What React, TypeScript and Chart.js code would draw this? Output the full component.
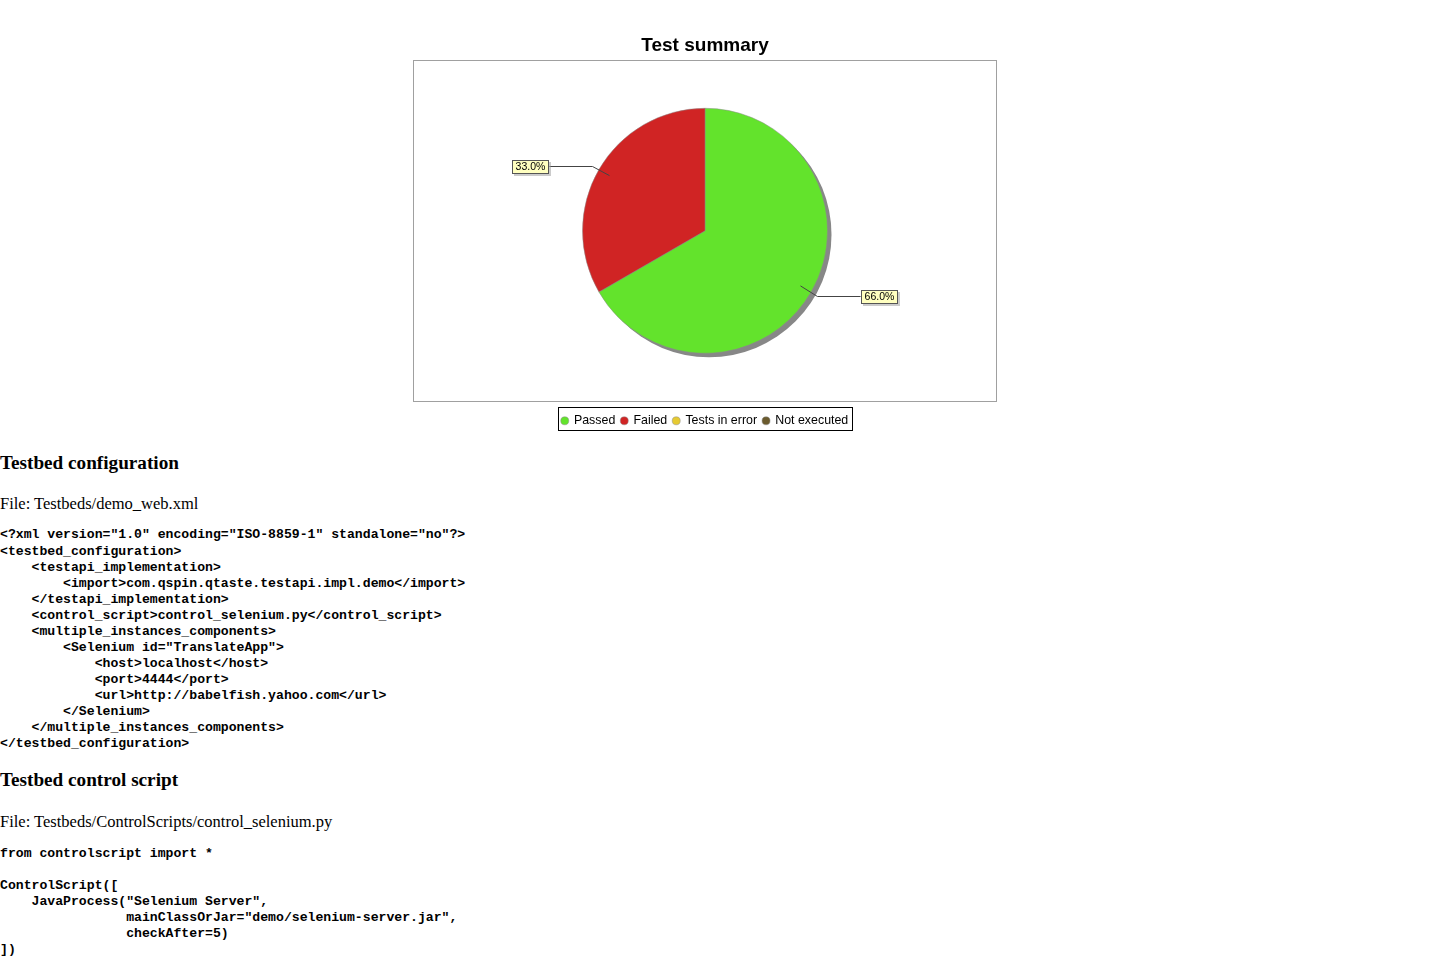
import React, { useEffect, useRef } from "react";
import { Chart, registerables } from "chart.js";

Chart.register(...registerables);

// ---- data ----
const chartTitle = "Test summary";
const categories = ["Passed", "Failed", "Tests in error", "Not executed"];
const percentages = [66, 33, 0, 0];
const sliceColors = ["#63E32C", "#D02424", "#E6CA32", "#6B5B2E"];

const xmlFile = "File: Testbeds/demo_web.xml";
const xmlLines = [
  '<?xml version="1.0" encoding="ISO-8859-1" standalone="no"?>',
  "<testbed_configuration>",
  "    <testapi_implementation>",
  "        <import>com.qspin.qtaste.testapi.impl.demo</import>",
  "    </testapi_implementation>",
  "    <control_script>control_selenium.py</control_script>",
  "    <multiple_instances_components>",
  '        <Selenium id="TranslateApp">',
  "            <host>localhost</host>",
  "            <port>4444</port>",
  "            <url>http://babelfish.yahoo.com</url>",
  "        </Selenium>",
  "    </multiple_instances_components>",
  "</testbed_configuration>",
];
const scriptFile = "File: Testbeds/ControlScripts/control_selenium.py";
const scriptLines = [
  "from controlscript import *",
  "",
  "ControlScript([",
  '    JavaProcess("Selenium Server",',
  '                mainClassOrJar="demo/selenium-server.jar",',
  "                checkAfter=5)",
  "])",
];

const SANS = '"Liberation Sans", Arial, sans-serif';

const plotFramePlugin = {
  id: "plotFrame",
  beforeDatasetsDraw(chart: any) {
    const { ctx, chartArea } = chart;
    const top = Math.round(chartArea.top) + 0.5;
    const bottom = Math.ceil(chartArea.bottom) - 0.5;
    ctx.save();
    ctx.strokeStyle = "#a0a0a0";
    ctx.lineWidth = 1;
    ctx.strokeRect(
      Math.round(chartArea.left) + 0.5,
      top,
      Math.round(chartArea.right - chartArea.left) - 1,
      bottom - top
    );
    ctx.restore();
  },
};

const pieShadowPlugin = {
  id: "pieShadow",
  beforeDatasetsDraw(chart: any) {
    const meta = chart.getDatasetMeta(0);
    const el = meta.data[0];
    if (!el) return;
    const { x, y, outerRadius } = el.getProps(["x", "y", "outerRadius"], true);
    const ctx = chart.ctx;
    ctx.save();
    ctx.fillStyle = "#878787";
    ctx.beginPath();
    ctx.arc(x + 4, y + 4, outerRadius, 0, Math.PI * 2);
    ctx.fill();
    ctx.restore();
  },
};

const sliceLabelPlugin = {
  id: "sliceLabels",
  afterDatasetsDraw(chart: any) {
    const ctx = chart.ctx;
    const meta = chart.getDatasetMeta(0);
    const values = chart.data.datasets[0].data as number[];
    ctx.save();
    ctx.font = "10.5px " + SANS;
    meta.data.forEach((el: any, i: number) => {
      if (!values[i]) return;
      const { x, y, startAngle, endAngle, outerRadius } = el.getProps(
        ["x", "y", "startAngle", "endAngle", "outerRadius"],
        true
      );
      const mid = (startAngle + endAngle) / 2;
      const c = Math.cos(mid);
      const s = Math.sin(mid);
      const x1 = x + 0.9 * outerRadius * c;
      const y1 = y + 0.9 * outerRadius * s;
      const x2 = x + 1.06 * outerRadius * c;
      const y2 = Math.round(y + 1.06 * outerRadius * s) + 0.5;
      const side = c >= 0 ? 1 : -1;
      const x3 = x + side * 1.27 * outerRadius;
      ctx.strokeStyle = "#444";
      ctx.lineWidth = 1;
      ctx.beginPath();
      ctx.moveTo(x1, y1);
      ctx.lineTo(x2, y2);
      ctx.lineTo(x3, y2);
      ctx.stroke();
      const text = values[i].toFixed(1) + "%";
      const tw = ctx.measureText(text).width;
      const w = Math.round(tw + 7);
      const h = 14;
      const bx = Math.round(side > 0 ? x3 : x3 - w);
      const by = Math.round(y2 - h / 2);
      ctx.fillStyle = "rgba(151,151,151,0.5)";
      ctx.fillRect(bx + 2, by + 2, w, h);
      ctx.fillStyle = "#FFFFC0";
      ctx.fillRect(bx, by, w, h);
      ctx.strokeStyle = "#555";
      ctx.strokeRect(bx + 0.5, by + 0.5, w - 1, h - 1);
      ctx.fillStyle = "#000";
      ctx.textAlign = "center";
      ctx.textBaseline = "middle";
      ctx.fillText(text, bx + w / 2, by + h / 2 + 0.5);
    });
    ctx.restore();
  },
};

const legendFramePlugin = {
  id: "legendFrame",
  afterDraw(chart: any) {
    const boxes = chart.legend && chart.legend.legendHitBoxes;
    if (!boxes || !boxes.length) return;
    let l = Infinity, r = -Infinity, t = Infinity, b = -Infinity;
    boxes.forEach((hb: any) => {
      l = Math.min(l, hb.left);
      r = Math.max(r, hb.left + hb.width);
      t = Math.min(t, hb.top);
      b = Math.max(b, hb.top + hb.height);
    });
    const ctx = chart.ctx;
    ctx.save();
    ctx.strokeStyle = "#000";
    ctx.lineWidth = 1;
    const x0 = Math.round(l - 4) + 0.5;
    const x1 = Math.round(r + 4) + 0.5;
    const y0 = Math.round(t - 8) + 0.5;
    const y1 = Math.round(b + 3) + 0.5;
    ctx.strokeRect(x0, y0, x1 - x0, y1 - y0);
    ctx.restore();
  },
};

const preStyle: React.CSSProperties = {
  fontFamily: '"Liberation Mono", "Courier New", monospace',
  fontSize: "13.15px",
  fontWeight: "bold",
  lineHeight: "16.08px",
  margin: "12px 0",
  whiteSpace: "pre",
};
const h3Style: React.CSSProperties = {
  fontSize: "19.2px",
  fontWeight: "bold",
  margin: "18.72px 0",
};
const h3Style2: React.CSSProperties = { ...h3Style, marginTop: "16.72px" };
const pStyle1: React.CSSProperties = {
  fontSize: "16.5px",
  margin: "16px 0 15px",
  position: "relative",
  top: 2,
};
const pStyle2: React.CSSProperties = { ...pStyle1, margin: "16px 0 16px" };

export default function App() {
  const ref = useRef<HTMLCanvasElement | null>(null);

  useEffect(() => {
    const canvas = ref.current;
    if (!canvas) return;
    const chart = new Chart(canvas, {
      type: "pie",
      data: {
        labels: categories,
        datasets: [
          {
            data: percentages,
            backgroundColor: sliceColors,
            borderColor: "#8a8a8a",
            borderWidth: 0.5,
            radius: 122.5,
          } as any,
        ],
      },
      options: {
        responsive: false,
        animation: false,
        events: [],
        layout: { padding: { left: 8, right: 8, top: 0, bottom: 0 } },
        plugins: {
          title: {
            display: true,
            text: chartTitle,
            color: "#000",
            font: { family: SANS, size: 19, weight: "bold", lineHeight: 1.2 },
            padding: { top: 4.6, bottom: 2.6 },
          },
          subtitle: {
            display: true,
            text: "",
            position: "bottom",
            weight: 500,
            font: { size: 5, lineHeight: 1.42 },
            padding: 0,
          } as any,
          legend: {
            position: "bottom",
            labels: {
              usePointStyle: true,
              pointStyle: "circle",
              boxWidth: 6,
              boxHeight: 5.66,
              padding: 6,
              color: "#000",
              font: { family: SANS, size: 12.4 },
            },
          },
          tooltip: { enabled: false },
        },
      },
      plugins: [plotFramePlugin, pieShadowPlugin, sliceLabelPlugin, legendFramePlugin],
    });
    return () => chart.destroy();
  }, []);

  return (
    <div style={{ fontFamily: '"Liberation Serif", "Times New Roman", serif', color: "#000" }}>
      <style>{`body{margin:0;background:#fff}`}</style>
      <div style={{ position: "relative", height: 433 }}>
        <canvas
          ref={ref}
          width={600}
          height={407}
          style={{ position: "absolute", left: 405, top: 30, width: 600, height: 407 }}
        />
      </div>
      <h3 style={h3Style}>Testbed configuration</h3>
      <p style={pStyle1}>{xmlFile}</p>
      <pre style={preStyle}>{xmlLines.join("\n")}</pre>
      <h3 style={h3Style2}>Testbed control script</h3>
      <p style={pStyle2}>{scriptFile}</p>
      <pre style={preStyle}>{scriptLines.join("\n")}</pre>
    </div>
  );
}
